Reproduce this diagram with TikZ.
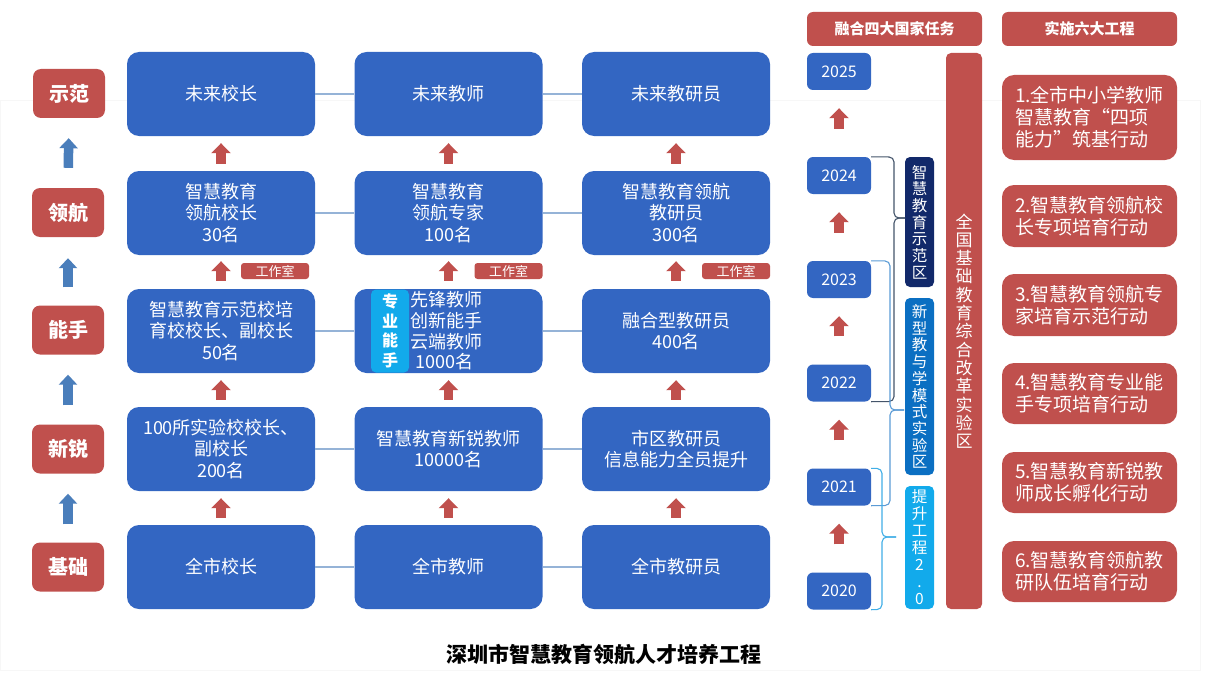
\documentclass[tikz,border=0pt]{standalone}
\usepackage{fontspec}
\setmainfont{Noto Sans CJK SC}
\usetikzlibrary{arrows.meta}
\definecolor{boxblue}{HTML}{3366C2}
\definecolor{lred}{HTML}{C0504D}
\definecolor{arrblue}{HTML}{4A7EBB}
\definecolor{connc}{HTML}{95B3D7}
\definecolor{navyb}{HTML}{12296A}
\definecolor{midblue}{HTML}{0B6FC2}
\definecolor{cyanb}{HTML}{12AAEB}
\definecolor{brA}{HTML}{44546A}
\definecolor{brB}{HTML}{5B9BD5}
\definecolor{brC}{HTML}{41AEE6}
\newcommand\fsz[2]{\fontsize{#1}{#2}\selectfont}
\tikzset{
  lvl/.style={fill=lred, rounded corners=8pt, minimum width=72pt, minimum height=49pt, text=white, font=\fsz{20}{24}\bfseries, inner sep=0pt},
  bbox/.style={fill=boxblue, rounded corners=12pt, minimum width=188pt, minimum height=84pt, text=white, font=\fsz{18}{21.5}, align=center, inner sep=0pt},
  yearbox/.style={fill=boxblue, rounded corners=6pt, minimum width=64pt, minimum height=37pt, text=white, font=\fsz{16}{19}, inner sep=0pt},
  headbox/.style={fill=lred, rounded corners=6pt, minimum width=175pt, minimum height=34pt, text=white, font=\fsz{15}{18}\bfseries, inner sep=0pt},
  actbox/.style={fill=lred, rounded corners=12pt, minimum width=175pt, text=white, font=\fsz{19}{22}, align=left, inner sep=0pt},
  tagbox/.style={fill=lred, rounded corners=3pt, minimum width=68pt, minimum height=16pt, text=white, font=\fsz{13}{15}, inner sep=0pt},
  vbar/.style={rounded corners=5pt, minimum width=29pt, text=white, align=center, inner sep=0pt, font=\fsz{15.5}{16.7}},
  rarr/.style={line width=9.5pt, draw=lred, -{Triangle[width=19pt,length=10pt]}},
  barr/.style={line width=9.5pt, draw=arrblue, -{Triangle[width=18pt,length=10pt]}},
  hconn/.style={draw=connc, line width=1.2pt},
  brace/.style={line width=1.1pt, rounded corners=5pt},
}
\begin{document}
\begin{tikzpicture}[x=1pt,y=-1pt]
\useasboundingbox (0,0) rectangle (1214,682);
\draw[black!3] (0,100) rectangle (1200,670);

% level labels
\node[lvl] (L1) at (69,93.5) {示范};
\node[lvl] (L2) at (68,212.5) {领航};
\node[lvl] (L3) at (68,330) {能手};
\node[lvl] (L4) at (68,449) {新锐};
\node[lvl] (L5) at (68,567) {基础};
\draw[barr, shorten <=20pt, shorten >=20pt] (L2.north) -- (L1.south);
\draw[barr, shorten <=18pt, shorten >=21pt] (L3.north) -- (L2.south);
\draw[barr, shorten <=19pt, shorten >=20pt] (L4.north) -- (L3.south);
\draw[barr, shorten <=18pt, shorten >=20pt] (L5.north) -- (L4.south);

% blue boxes
\node[bbox] (a1) at (221,94) {未来校长};
\node[bbox] (b1) at (448.5,94) {未来教师};
\node[bbox] (c1) at (676,94) {未来教研员};
\node[bbox] (a2) at (221,213) {智慧教育\\领航校长\\30名};
\node[bbox] (b2) at (448.5,213) {智慧教育\\领航专家\\100名};
\node[bbox] (c2) at (676,213) {智慧教育领航\\教研员\\300名};
\node[bbox] (a3) at (221,331) {智慧教育示范校培\\育校校长、副校长\\50名};
\node[bbox] (b3) at (448.5,331) {};
\node[bbox] (c3) at (676,331) {融合型教研员\\400名};
\node[bbox] (a4) at (221,449) {100所实验校校长、\\副校长\\200名};
\node[bbox] (b4) at (448.5,449) {智慧教育新锐教师\\10000名};
\node[bbox] (c4) at (676,449) {市区教研员\\信息能力全员提升};
\node[bbox] (a5) at (221,567) {全市校长};
\node[bbox] (b5) at (448.5,567) {全市教师};
\node[bbox] (c5) at (676,567) {全市教研员};

\node[vbar, fill=cyanb, minimum width=38pt, minimum height=83pt, font=\fsz{16}{19.5}\bfseries] (zy) at (390,331) {专\\业\\能\\手};
\node[anchor=west, align=left, text=white, font=\fsz{18}{20.7}, inner sep=0pt] (b3t) at (410,331) {先锋教师\\创新能手\\云端教师\\\hspace{5pt}1000名};

% horizontal connectors
\foreach \r in {1,...,5}{
  \draw[hconn] (a\r.east) -- (b\r.west);
  \draw[hconn] (b\r.east) -- (c\r.west);
}

% red arrows between rows
\foreach \c in {a,b,c}{
  \draw[rarr, shorten <=7pt, shorten >=7pt] (\c2.north) -- (\c1.south);
  \draw[rarr, shorten <=8pt, shorten >=6pt] (\c3.north) -- (\c2.south);
  \draw[rarr, shorten <=7pt, shorten >=7pt] (\c4.north) -- (\c3.south);
  \draw[rarr, shorten <=7pt, shorten >=7pt] (\c5.north) -- (\c4.south);
}

% studio tags
\node[tagbox] (t1) at (275,271) {工作室};
\node[tagbox] (t2) at (508.5,271) {工作室};
\node[tagbox] (t3) at (736,271) {工作室};

% right headers
\node[headbox] (h1) at (894.5,29) {融合四大国家任务};
\node[headbox] (h2) at (1089.5,29) {实施六大工程};

% years
\node[yearbox] (y2025) at (839,71.5) {2025};
\node[yearbox] (y2024) at (839,175.5) {2024};
\node[yearbox] (y2023) at (839,279.5) {2023};
\node[yearbox] (y2022) at (839,383) {2022};
\node[yearbox] (y2021) at (839,487) {2021};
\node[yearbox] (y2020) at (839,591) {2020};
\draw[rarr, shorten <=28pt, shorten >=18pt] (y2024.north) -- (y2025.south);
\draw[rarr, shorten <=28pt, shorten >=18pt] (y2023.north) -- (y2024.south);
\draw[rarr, shorten <=28pt, shorten >=18pt] (y2022.north) -- (y2023.south);
\draw[rarr, shorten <=28pt, shorten >=18pt] (y2021.north) -- (y2022.south);
\draw[rarr, shorten <=28pt, shorten >=18pt] (y2020.north) -- (y2021.south);

% long red bar
\node[vbar, fill=lred, minimum width=36pt, minimum height=556pt, font=\fsz{17}{18.3}] (qg) at (964,331) {全\\国\\基\\础\\教\\育\\综\\合\\改\\革\\实\\验\\区};

% narrow bars
\node[vbar, fill=navyb, minimum height=130pt] (sf) at (919.5,222) {智\\慧\\教\\育\\示\\范\\区};
\node[vbar, fill=midblue, minimum height=177pt] (xx) at (919.5,386.5) {新\\型\\教\\与\\学\\模\\式\\实\\验\\区};
\node[vbar, fill=cyanb, minimum height=123pt, font=\fsz{15.5}{17}] (ts) at (919.5,547.5) {提\\升\\工\\程\\2\\.\\0};

% braces
\coordinate (tipA) at (905,218);
\coordinate (tipB) at (904,410);
\coordinate (tipC) at (896,537);
\draw[brace, draw=brA] (y2024.north east) -- (894,157) -- (894,218) -- (tipA);
\draw[brace, draw=brA] (y2022.south east) -- (894,401.5) -- (894,218) -- (tipA);
\draw[brace, draw=brB] (y2023.north east) -- (890,261) -- (890,410) -- (tipB);
\draw[brace, draw=brB] (y2021.south east) -- (890,505.5) -- (890,410) -- (tipB);
\draw[brace, draw=brC] (y2021.north east) -- (882,468.5) -- (882,537) -- (tipC);
\draw[brace, draw=brC] (y2020.south east) -- (882,609.5) -- (882,537) -- (tipC);

% action boxes
\node[actbox, minimum height=85pt] (p1) at (1089.5,117.5) {1.全市中小学教师\\智慧教育“四项\\能力”筑基行动};
\node[actbox, minimum height=62pt] (p2) at (1089.5,216) {2.智慧教育领航校\\长专项培育行动};
\node[actbox, minimum height=62pt] (p3) at (1089.5,305) {3.智慧教育领航专\\家培育示范行动};
\node[actbox, minimum height=61pt] (p4) at (1089.5,393.5) {4.智慧教育专业能\\手专项培育行动};
\node[actbox, minimum height=61pt] (p5) at (1089.5,482.5) {5.智慧教育新锐教\\师成长孵化行动};
\node[actbox, minimum height=61pt] (p6) at (1089.5,571.5) {6.智慧教育领航教\\研队伍培育行动};

% title
\node[font=\fsz{21}{24}\bfseries, text=black, inner sep=0pt] (title) at (604,654) {深圳市智慧教育领航人才培养工程};
\end{tikzpicture}
\end{document}
